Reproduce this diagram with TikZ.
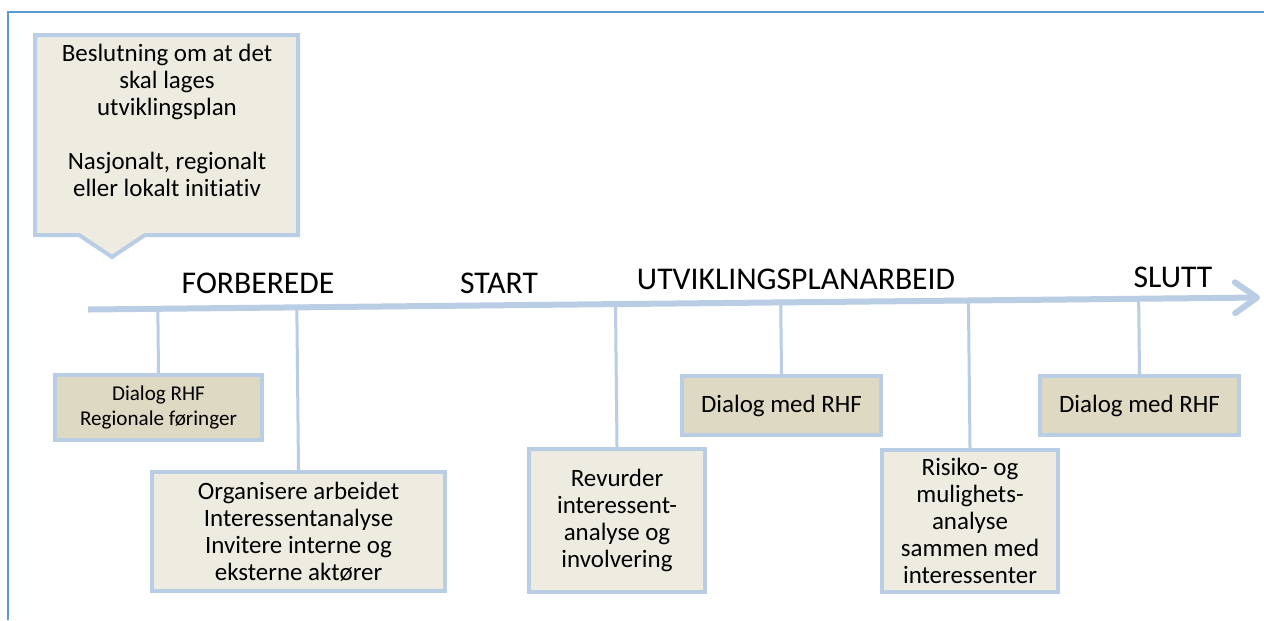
\documentclass[tikz,border=0pt]{standalone}
\usepackage{fontspec}
\setmainfont[Ligatures=NoCommon]{Carlito}
\usetikzlibrary{arrows.meta,calc}
\definecolor{edgeblue}{HTML}{B9CDE5}
\definecolor{frameblue}{HTML}{5B9BD5}
\definecolor{taupe}{HTML}{DDD9C3}
\definecolor{paper}{HTML}{EEECE1}
\begin{document}
\begin{tikzpicture}[x=0.02cm,y=-0.02cm,
    box/.style={draw=edgeblue,line width=0.08cm,fill=paper,align=center,inner sep=2pt,
      font=\fontsize{14.2}{15.3}\selectfont},
    darkbox/.style={box,fill=taupe},
    tickline/.style={edgeblue,line width=0.06cm},
    phase/.style={font=\fontsize{18}{20}\selectfont}]
    \useasboundingbox (0,0) rectangle (1264,620);

    % frame
    \draw[frameblue,line width=0.05cm] (8,620) -- (8,12) -- (1264,12);

    % callout
    \draw[edgeblue,line width=0.08cm,fill=paper] (35,35) -- (298,35) -- (298,235) -- (145,235)
        -- (112,257) -- (79,235) -- (35,235) -- cycle;
    \node[align=center,font=\fontsize{14.2}{15.3}\selectfont] (beslutning) at (167,120.5)
        {Beslutning om at det\\skal lages\\utviklingsplan\\[15.3pt]Nasjonalt, regionalt\\eller lokalt initiativ};

    % boxes
    \node[darkbox,minimum width=4.14cm,minimum height=1.30cm,font=\fontsize{12}{14.2}\selectfont]
        (dialogrhf) at (158.5,407.5) {Dialog RHF\\Regionale føringer};
    \node[box,minimum width=5.86cm,minimum height=2.38cm] (organisere) at (298.5,531.5)
        {Organisere arbeidet\\Interessentanalyse\\Invitere interne og\\eksterne aktører};
    \node[box,minimum width=3.52cm,minimum height=2.86cm] (revurder) at (617,520.5)
        {Revurder\\interessent-\\analyse og\\involvering};
    \node[darkbox,minimum width=3.98cm,minimum height=1.18cm] (dialogmid) at (781.5,405.5) {Dialog med RHF};
    \node[box,minimum width=3.52cm,minimum height=2.84cm] (risiko) at (970,521)
        {Risiko- og\\mulighets-\\analyse\\sammen med\\interessenter};
    \node[darkbox,minimum width=3.98cm,minimum height=1.18cm] (dialogend) at (1139.5,405.5) {Dialog med RHF};

    % time line
    \coordinate (axs) at (88,309.5);
    \coordinate (axe) at (1260,297.5);
    \foreach \b in {dialogrhf,organisere,revurder,dialogmid,risiko,dialogend}
        \draw[tickline] (\b.north) -- ($(axs)!(\b.north)!(axe)$);
    \draw[edgeblue,line width=0.12cm,-{Straight Barb[round,length=0.44cm,width=0.62cm]}] (axs) -- (axe);

    \node[phase] (forberede) at (258,283) {FORBEREDE};
    \node[phase] (start) at (499,283) {START};
    \node[phase] (arbeid) at (796,279.5) {UTVIKLINGSPLANARBEID};
    \node[phase] (slutt) at (1173,277.5) {SLUTT};
\end{tikzpicture}
\end{document}
